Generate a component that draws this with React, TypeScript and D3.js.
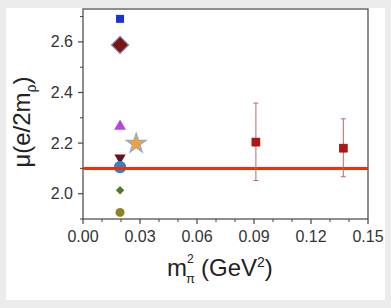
import * as d3 from "d3";

// cluster of calculations near the physical pion mass
const clusterX = [0.0195, 0.0195, 0.0195, 0.028, 0.0195, 0.0195, 0.0195, 0.0195];
const clusterY = [2.691, 2.588, 2.266, 2.198, 2.142, 2.105, 2.014, 1.926];
const clusterShape = ["square", "diamond", "triangle", "star", "triangleDown", "circle", "diamond", "circle"];
const clusterSize = [64, 150, 60, 124, 55, 120, 36, 64];
const clusterFill = ["#1733d6", "#7d1414", "#b944e0", "#f5a131", "#661222", "#2a87c6", "#4d7a2c", "#8a8424"];
const clusterStroke = ["none", "#8a9abb", "none", "#94a9c9", "none", "none", "none", "none"];

// lattice points with error bars
const latticeX = [0.091, 0.137];
const latticeY = [2.204, 2.18];
const latticeLo = [2.052, 2.067];
const latticeHi = [2.358, 2.296];

const refValue = 2.1;

const xTicks = [0, 0.03, 0.06, 0.09, 0.12, 0.15];
const yTicks = [2.0, 2.2, 2.4, 2.6];

const W = 391;
const H = 308;
const M = { left: 83, right: 368, top: 9, bottom: 219 };
const FONT = "'Liberation Sans', Arial, sans-serif";
const AXIS = "#444";

const shapeOf: Record<string, d3.SymbolType> = {
  square: d3.symbolSquare,
  diamond: d3.symbolSquare,
  triangle: d3.symbolTriangle,
  triangleDown: d3.symbolTriangle,
  star: d3.symbolStar,
  circle: d3.symbolCircle,
};

export default function App() {
  const x = d3.scaleLinear().domain([0, 0.15]).range([M.left, M.right]);
  const y = d3.scaleLinear().domain([1.9, 2.73]).range([M.bottom, M.top]);

  const xMinor = d3.range(0, 0.1501, 0.01).filter((v) => !xTicks.some((t) => Math.abs(t - v) < 1e-6));
  const yMinor = d3.range(1.9, 2.73, 0.1).filter((v) => !yTicks.some((t) => Math.abs(t - v) < 1e-6));

  const symbolPath = (i: number) =>
    d3.symbol().type(shapeOf[clusterShape[i]]).size(clusterSize[i])() ?? "";
  const rotationOf = (s: string) => (s === "diamond" ? 45 : s === "triangleDown" ? 180 : 0);

  const drawSymbol = (i: number) => (
    <path
      key={"s" + i}
      d={symbolPath(i)}
      transform={`translate(${x(clusterX[i])},${y(clusterY[i])}) rotate(${rotationOf(clusterShape[i])})`}
      fill={clusterFill[i]}
      stroke={clusterStroke[i]}
      strokeWidth={1.2}
    />
  );

  // the circle at 2.1 sits under the reference line, the rest are drawn on top
  const under = clusterShape.map((_, i) => i).filter((i) => i === 4 || i === 5);
  const over = clusterShape.map((_, i) => i).filter((i) => i !== 4 && i !== 5);

  return (
    <svg
      width={W}
      height={H}
      style={{ position: "absolute", left: 0, top: 0, fontFamily: FONT }}
    >
      <rect width={W} height={H} fill="#ebebeb" />
      <rect x={6} y={8} width={379} height={292} fill="#fff" />

      {/* frame */}
      <rect
        x={M.left}
        y={M.top}
        width={M.right - M.left}
        height={M.bottom - M.top}
        fill="none"
        stroke={AXIS}
        strokeWidth={1.2}
      />

      {/* x axis ticks */}
      {xTicks.map((t) => (
        <g key={"xt" + t}>
          <line x1={x(t)} x2={x(t)} y1={M.bottom} y2={M.bottom + 5} stroke={AXIS} strokeWidth={1.2} />
          <text x={x(t)} y={242} textAnchor="middle" fontSize={16} fill="#333">
            {t.toFixed(2)}
          </text>
        </g>
      ))}
      {xMinor.map((t) => (
        <line key={"xm" + t} x1={x(t)} x2={x(t)} y1={M.bottom} y2={M.bottom + 3} stroke={AXIS} strokeWidth={1} />
      ))}

      {/* y axis ticks */}
      {yTicks.map((t) => (
        <g key={"yt" + t}>
          <line x1={M.left - 5} x2={M.left} y1={y(t)} y2={y(t)} stroke={AXIS} strokeWidth={1.2} />
          <text x={73} y={y(t)} dy="0.35em" textAnchor="end" fontSize={16} fill="#333">
            {t.toFixed(1)}
          </text>
        </g>
      ))}
      {yMinor.map((t) => (
        <line key={"ym" + t} x1={M.left - 3} x2={M.left} y1={y(t)} y2={y(t)} stroke={AXIS} strokeWidth={1} />
      ))}

      {under.map(drawSymbol)}

      <line
        x1={M.left}
        x2={M.right}
        y1={y(refValue)}
        y2={y(refValue)}
        stroke="#ff2a00"
        strokeWidth={3}
      />

      {over.map(drawSymbol)}

      {/* lattice points */}
      {latticeX.map((v, i) => (
        <g key={"l" + i} stroke="#b56a6a" strokeWidth={1}>
          <line x1={x(v)} x2={x(v)} y1={y(latticeLo[i])} y2={y(latticeHi[i])} />
          <line x1={x(v) - 2.5} x2={x(v) + 2.5} y1={y(latticeLo[i])} y2={y(latticeLo[i])} />
          <line x1={x(v) - 2.5} x2={x(v) + 2.5} y1={y(latticeHi[i])} y2={y(latticeHi[i])} />
          <rect x={x(v) - 4} y={y(latticeY[i]) - 4} width={8} height={8} fill="#b31414" stroke="#8a1010" strokeWidth={0.6} />
        </g>
      ))}

      {/* axis titles */}
      <text x={167} y={276} fontSize={24} fill="#222">
        m
      </text>
      <text x={186} y={283} fontSize={13} fill="#222">
        π
      </text>
      <text x={187} y={263} fontSize={12} fill="#222">
        2
      </text>
      <text x={201} y={276} fontSize={24} fill="#222">
        (GeV
        <tspan dy={-9} fontSize={14}>2</tspan>
        <tspan dy={9}>)</tspan>
      </text>

      <text transform="translate(30,122) rotate(-90)" textAnchor="middle" fontSize={24} fill="#222">
        μ(e/2m
        <tspan dy={6} fontSize={14}>ρ</tspan>
        <tspan dy={-6}>)</tspan>
      </text>
    </svg>
  );
}
